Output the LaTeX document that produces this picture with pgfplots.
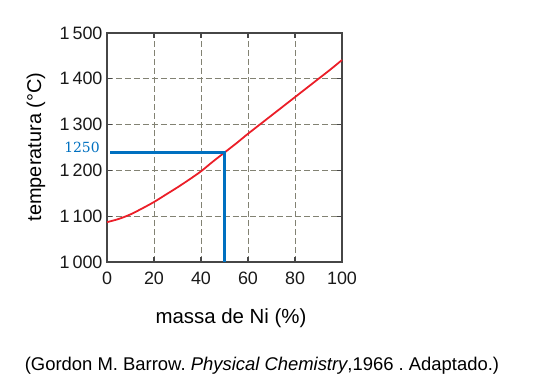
\documentclass[border=0pt]{standalone}
\usepackage{pgfplots}
\pgfplotsset{compat=1.18}
\usepackage{fontspec}
\setmainfont{Liberation Sans}
\newfontfamily\serifblue{DejaVu Serif}
\definecolor{axgray}{RGB}{70,70,70}
\definecolor{gridgray}{RGB}{130,130,115}
\definecolor{curvered}{RGB}{235,30,40}
\definecolor{lineblue}{RGB}{0,112,192}
\frenchspacing
\begin{document}
\begin{tikzpicture}
\useasboundingbox (0,0) rectangle (545bp,392bp);
\begin{axis}[
  at={(107bp,130bp)}, anchor=south west,
  scale only axis, width=235bp, height=229bp,
  xmin=0, xmax=100, ymin=1000, ymax=1500,
  xtick={0,20,40,60,80,100},
  ytick={1000,1100,1200,1300,1400,1500},
  yticklabels={1\,000,1\,100,1\,200,1\,300,1\,400,1\,500},
  xticklabels={0,20,40,60,80,100},
  tick align=inside, tick pos=both,
  major tick length=5bp,
  axis line style={axgray, line width=1.2pt},
  every tick/.style={axgray, line width=1.2pt},
  grid=major,
  major grid style={gridgray, dash pattern=on 6pt off 3pt, line width=0.9pt},
  tick label style={font=\fontsize{18}{21}\selectfont, text=black!90},
  yticklabel style={xshift=-1bp},
  xticklabel style={yshift=-6bp},
  clip=false,
]
\addplot[curvered, line width=1.8pt, smooth] coordinates {
(0,1087) (5,1094) (10,1104) (15,1117) (20,1131) (25,1147) (30,1163) (35,1180)
(40,1198) (45,1219) (50,1239) (55,1259) (60,1280) (65,1300) (70,1320)
(75,1340) (80,1360) (85,1380) (90,1400) (95,1420) (100,1441)};
\addplot[lineblue, line width=2.1pt] coordinates {(1.3,1239) (50,1239) (50,1000)};
\end{axis}
\node[lineblue, font=\serifblue\fontsize{14}{17}\selectfont] at (82bp,245bp) {1250};
\node[rotate=90, font=\fontsize{20}{23}\selectfont] at (36bp,245bp) {temperatura (°C)};
\node[font=\fontsize{20.5}{24}\selectfont] at (231bp,74bp) {massa de Ni (\%)};
\node[font=\fontsize{18.5}{22}\selectfont] at (262bp,26bp) {(Gordon M. Barrow. \textit{Physical Chemistry},1966 . Adaptado.)};
\end{tikzpicture}
\end{document}
